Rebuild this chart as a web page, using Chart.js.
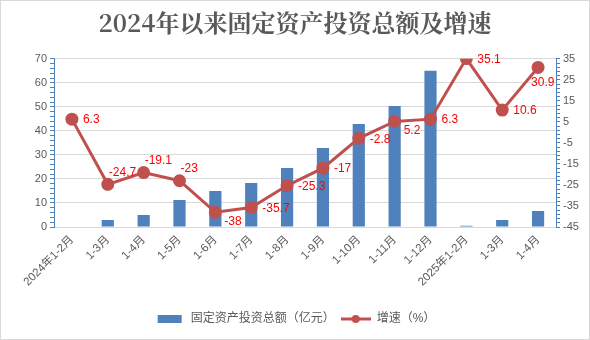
<!DOCTYPE html>
<html>
<head>
<meta charset="utf-8">
<script src="https://cdn.jsdelivr.net/npm/chart.js@4"></script>
<style>
  body { margin: 0; background: #fff; }
  #wrap { width: 588px; height: 338px; border: 1px solid #d9d9d9; }
</style>
</head>
<body>
<div id="wrap"><canvas id="myChart" width="588" height="338"></canvas></div>
<script>
let months = ["2024年1-2月", "1-3月", "1-4月", "1-5月", "1-6月", "1-7月", "1-8月", "1-9月", "1-10月", "1-11月", "1-12月", "2025年1-2月", "1-3月", "1-4月"];
let totalValues = [0, 2.9, 5, 11.2, 15, 18.3, 24.6, 32.9, 42.9, 50.4, 65, 0.5, 2.9, 6.7];
let growthValues = [6.3, -24.7, -19.1, -23, -38, -35.7, -25.3, -17, -2.8, 5.2, 6.3, 35.1, 10.6, 30.9];
// where each growth label sits next to its point
let labelPlace = ["right", "above", "above", "above", "below", "right", "right", "right", "right", "below", "right", "right", "right", "belowLeft"];

let fontFam = "'Liberation Sans','Noto Sans CJK SC',sans-serif";
let grey = "#595959";
let blue = "#4f81bd";
let red = "#c0504d";

function legendIcon(kind) {
  let c = document.createElement("canvas");
  c.width = 30; c.height = 10;
  let g = c.getContext("2d");
  if (kind === "bar") {
    g.fillStyle = blue;
    g.fillRect(3, 1, 24, 8);
  } else {
    g.strokeStyle = red; g.lineWidth = 3;
    g.beginPath(); g.moveTo(0, 5); g.lineTo(30, 5); g.stroke();
    g.fillStyle = red;
    g.beginPath(); g.arc(15, 5, 4, 0, Math.PI * 2); g.fill();
  }
  return c;
}

let growthLabels = {
  id: "growthLabels",
  afterDatasetsDraw(chart) {
    let ctx = chart.ctx;
    let meta = chart.getDatasetMeta(1);
    ctx.save();
    ctx.font = "12px " + fontFam;
    ctx.fillStyle = "#ff0000";
    ctx.textBaseline = "middle";
    ctx.textAlign = "left";
    meta.data.forEach((pt, i) => {
      let p = labelPlace[i];
      let dx = 11, dy = 1;
      if (p === "above") { dx = 1; dy = -12; }
      if (p === "below") { dx = 9, dy = 9; }
      if (p === "belowLeft") { dx = -7; dy = 15; }
      ctx.fillText(String(growthValues[i]), pt.x + dx, pt.y + dy);
    });
    ctx.restore();
  }
};

new Chart("myChart", {
  type: "bar",
  data: {
    labels: months,
    datasets: [{
      type: "bar",
      label: "固定资产投资总额（亿元）",
      data: totalValues,
      backgroundColor: blue,
      yAxisID: "y",
      categoryPercentage: 1,
      barPercentage: 0.34,
      order: 2
    }, {
      type: "line",
      label: "增速（%）",
      data: growthValues,
      borderColor: red,
      backgroundColor: red,
      borderWidth: 3,
      pointRadius: 5,
      pointHoverRadius: 5,
      tension: 0,
      yAxisID: "y1",
      order: 1
    }]
  },
  options: {
    responsive: false,
    animation: false,
    layout: { padding: { left: 0, right: 0, bottom: 4 } },
    plugins: {
      title: {
        display: true,
        text: "2024年以来固定资产投资总额及增速",
        color: grey,
        font: { family: "'Noto Serif CJK SC','Noto Sans CJK SC',serif", size: 24, weight: "bold" },
        padding: { top: 7, bottom: 22 }
      },
      legend: {
        position: "bottom",
        labels: {
          color: grey,
          font: { family: fontFam, size: 12 },
          usePointStyle: true,
          pointStyleWidth: 30,
          boxHeight: 10,
          padding: 6,
          generateLabels(chart) {
            return chart.data.datasets.map((ds, i) => ({
              text: ds.label,
              fontColor: grey,
              pointStyle: legendIcon(i === 0 ? "bar" : "line"),
              datasetIndex: i,
              lineWidth: 0,
              strokeStyle: "transparent",
              fillStyle: "transparent"
            }));
          }
        }
      },
      tooltip: { enabled: false }
    },
    scales: {
      x: {
        grid: { drawOnChartArea: false, drawTicks: false, color: "transparent" },
        border: { color: "#d9d9d9" },
        ticks: {
          color: grey,
          font: { family: fontFam, size: 11.5 },
          minRotation: 45,
          maxRotation: 45,
          autoSkip: false,
          padding: 6
        },
        afterFit(scale) { scale.height = 80; }
      },
      y: {
        position: "left",
        min: 0,
        max: 70,
        grid: {
          color: (c) => (c.tick && c.tick.value % 10 === 0 ? "#d9d9d9" : "transparent"),
          tickColor: blue,
          tickLength: 4
        },
        border: { color: blue },
        ticks: {
          stepSize: 2,
          autoSkip: false,
          color: grey,
          font: { family: fontFam, size: 11 },
          padding: 3,
          callback: (v) => (v % 10 === 0 ? v : "")
        },
        afterFit(scale) { scale.width = 53; }
      },
      y1: {
        position: "right",
        min: -45,
        max: 35,
        grid: { drawOnChartArea: false, tickColor: blue, tickLength: 4 },
        border: { color: blue },
        ticks: {
          stepSize: 2,
          autoSkip: false,
          color: grey,
          font: { family: fontFam, size: 11 },
          padding: 3,
          callback: (v) => ((v + 45) % 10 === 0 ? v : "")
        },
        afterFit(scale) { scale.width = 33; }
      }
    }
  },
  plugins: [growthLabels]
});
</script>
</body>
</html>
